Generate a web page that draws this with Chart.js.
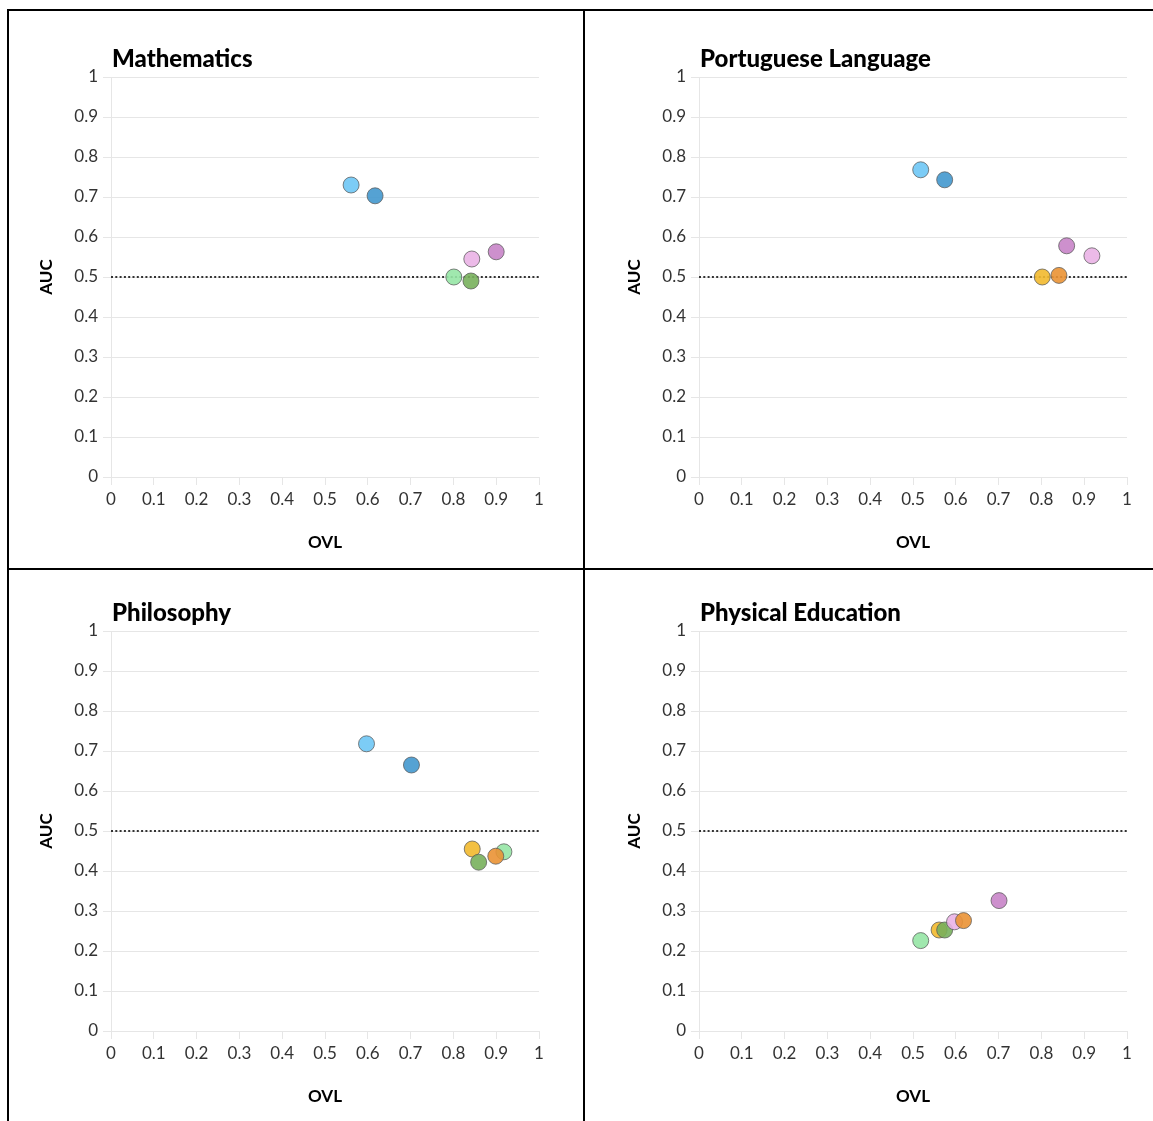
<!DOCTYPE html>
<html>
<head>
<meta charset="utf-8">
<script src="https://cdn.jsdelivr.net/npm/chart.js@4.4.0/dist/chart.umd.min.js"></script>
<style>
  body { margin: 0; background: #fff; overflow: hidden; width: 1153px; height: 1121px; position: relative; }
  canvas { position: absolute; }
  .line { position: absolute; background: #000; }
</style>
</head>
<body>
<div class="line" style="left:7px;top:9px;width:1146px;height:2px"></div>
<div class="line" style="left:7px;top:9px;width:2px;height:1112px"></div>
<div class="line" style="left:583px;top:9px;width:2px;height:1112px"></div>
<div class="line" style="left:7px;top:568px;width:1146px;height:2px"></div>

<canvas id="c0" width="555" height="545" style="left:10px;top:22px"></canvas>
<canvas id="c1" width="555" height="545" style="left:598px;top:22px"></canvas>
<canvas id="c2" width="555" height="545" style="left:10px;top:576px"></canvas>
<canvas id="c3" width="555" height="545" style="left:598px;top:576px"></canvas>

<script>
var SUBJECTS=['Mathematics','Portuguese Language','Philosophy','Physical Education'];

// groups in drawing order (bottom first)
var GROUPS=['light blue','dark blue','yellow','light green','dark green','light pink','purple','orange'];
var COLORS=[
    'rgba(110,198,245,0.9)',
    'rgba(66,152,206,0.9)',
    'rgba(242,185,45,0.9)',
    'rgba(150,230,165,0.9)',
    'rgba(120,176,92,0.9)',
    'rgba(234,178,230,0.9)',
    'rgba(200,132,200,0.9)',
    'rgba(234,146,52,0.9)'
];

// OVL (x) and AUC (y) per group, null = not shown
var OVL_MATH=[0.561,0.617,null,0.801,0.841,0.843,0.900,null];
var AUC_MATH=[0.730,0.703,null,0.500,0.490,0.545,0.563,null];
var OVL_PORT=[0.518,0.574,0.802,null,null,0.918,0.859,0.841];
var AUC_PORT=[0.768,0.743,0.500,null,null,0.553,0.578,0.504];
var OVL_PHIL=[0.597,0.702,0.844,0.918,0.859,null,null,0.899];
var AUC_PHIL=[0.718,0.665,0.455,0.448,0.422,null,null,0.437];
var OVL_PE=[null,null,0.561,0.518,0.574,0.597,0.701,0.618];
var AUC_PE=[null,null,0.2525,0.226,0.2525,0.273,0.326,0.276];

var TICK_LABELS=['0','0.1','0.2','0.3','0.4','0.5','0.6','0.7','0.8','0.9','1'];
var CHANCE=0.5;

var OVL=[OVL_MATH,OVL_PORT,OVL_PHIL,OVL_PE];
var AUC=[AUC_MATH,AUC_PORT,AUC_PHIL,AUC_PE];

var FONT='Lato, "Noto Sans", sans-serif';
var GRID='#e6e6e6';

var panelTitle={
    id:'panelTitle',
    afterDraw:function(chart,args,opts){
        var c=chart.ctx, a=chart.chartArea;
        c.save();
        c.font='900 24px '+FONT;
        c.fillStyle='#000';
        c.textAlign='left';
        c.textBaseline='middle';
        c.fillText(opts.text,a.left+1,a.top-18);
        c.restore();
    }
};

for(var p=0;p<4;p++){
    var datasets=[];
    for(var g=GROUPS.length-1;g>=0;g--){
        if(OVL[p][g]===null) continue;
        datasets.push({
            type:'scatter',
            label:GROUPS[g],
            data:[{x:OVL[p][g],y:AUC[p][g]}],
            backgroundColor:COLORS[g],
            borderColor:'rgba(90,90,90,0.75)',
            borderWidth:1,
            pointRadius:8,
            pointHoverRadius:8
        });
    }
    datasets.push({
        type:'line',
        label:'chance',
        data:[{x:0,y:CHANCE},{x:1,y:CHANCE}],
        borderColor:'#333',
        borderWidth:2,
        borderDash:[2,2.3],
        pointRadius:0,
        fill:false
    });

    new Chart(document.getElementById('c'+p),{
        type:'scatter',
        data:{datasets:datasets},
        plugins:[panelTitle],
        options:{
            responsive:false,
            animation:false,
            devicePixelRatio:1,
            layout:{padding:{top:55,right:26,left:0,bottom:0}},
            plugins:{
                legend:{display:false},
                tooltip:{enabled:false},
                panelTitle:{text:SUBJECTS[p]}
            },
            scales:{
                x:{
                    type:'linear',min:0,max:1,
                    afterFit:function(s){s.height=90;},
                    ticks:{stepSize:0.1,padding:4,color:'#333',font:{family:FONT,size:17},
                        maxRotation:0,autoSkip:false,
                        callback:function(v,i){return TICK_LABELS[i];}},
                    grid:{drawOnChartArea:false,drawTicks:true,tickLength:8,tickColor:GRID,color:GRID},
                    border:{display:true,color:GRID},
                    title:{display:true,text:'OVL',color:'#000',font:{family:FONT,size:17,weight:'bold'},padding:{top:0,bottom:14}}
                },
                y:{
                    type:'linear',min:0,max:1,
                    afterFit:function(s){s.width=101;},
                    ticks:{stepSize:0.1,padding:5,color:'#333',font:{family:FONT,size:17},
                        autoSkip:false,
                        callback:function(v,i){return TICK_LABELS[i];}},
                    grid:{drawTicks:true,tickLength:8,color:GRID,tickColor:GRID},
                    border:{display:true,color:GRID},
                    title:{display:true,text:'AUC',color:'#000',font:{family:FONT,size:17,weight:'bold'},padding:{top:26,bottom:0}}
                }
            }
        }
    });
}
</script>
</body>
</html>
